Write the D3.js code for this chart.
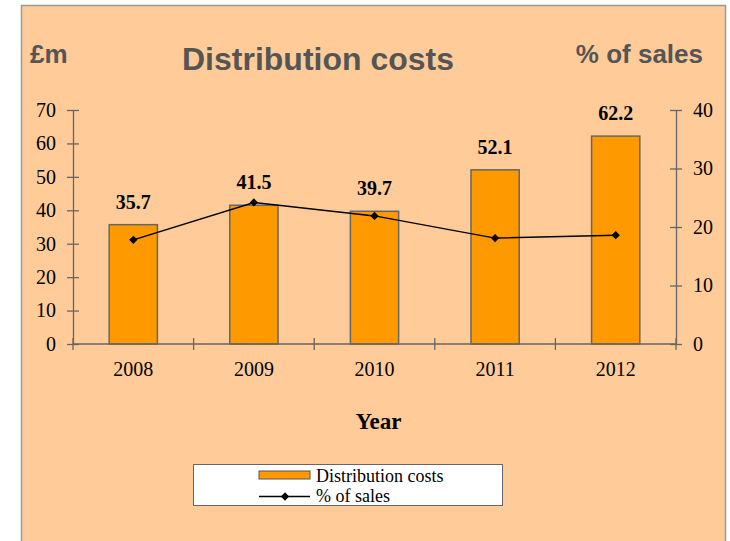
<!DOCTYPE html>
<html>
<head>
<meta charset="utf-8">
<script src="https://cdn.jsdelivr.net/npm/d3@7"></script>
<style>
  body { margin: 0; background: #fff; }
  svg { display: block; }
</style>
</head>
<body>
<div id="chart"></div>
<script>
// chart values
var years = ["2008", "2009", "2010", "2011", "2012"];
var costs = [35.7, 41.5, 39.7, 52.1, 62.2];       // £m
var pctSales = [17.8, 24.2, 21.9, 18.1, 18.6];    // % of sales
var leftTicks = [0, 10, 20, 30, 40, 50, 60, 70];
var rightTicks = [0, 10, 20, 30, 40];

var W = 730, H = 541;
var margin = {top: 110, right: 54, bottom: 197, left: 73},
    width = W - margin.left - margin.right,
    height = H - margin.top - margin.bottom;

var svg = d3.select("#chart").append("svg")
    .attr("width", W)
    .attr("height", H);

// chart frame
svg.append("rect")
    .attr("x", 21.5).attr("y", 5.5)
    .attr("width", 704).attr("height", 560)
    .style("fill", "#ffcc99")
    .style("stroke", "#999")
    .style("stroke-width", 1.5);

var g = svg.append("g").attr("transform", "translate(" + margin.left + "," + margin.top + ")");

var x = d3.scaleBand().domain(years).range([0, width]).paddingInner(0.6).paddingOuter(0.3);
var xPos = d3.scalePoint().domain(years).range([0, width]).padding(0.5);
var yL = d3.scaleLinear().domain([0, 70]).range([height, 0]);
var yR = d3.scaleLinear().domain([0, 40]).range([height, 0]);

// bars
g.selectAll("rect.bar")
    .data(costs)
    .enter()
    .append("rect")
      .attr("class", "bar")
      .attr("x", function(d, i){ return xPos(years[i]) - x.bandwidth() / 2; })
      .attr("y", function(d){ return yL(d); })
      .attr("width", x.bandwidth())
      .attr("height", function(d){ return height - yL(d); })
      .style("fill", "#ff9900")
      .style("stroke", "#666")
      .style("stroke-width", 1.5);

// bar value labels
g.selectAll("text.val")
    .data(costs)
    .enter()
    .append("text")
      .attr("x", function(d, i){ return xPos(years[i]); })
      .attr("y", function(d){ return yL(d) - 16; })
      .attr("text-anchor", "middle")
      .style("font-family", "Liberation Serif")
      .style("font-weight", "bold")
      .style("font-size", "20px")
      .text(function(d){ return d.toFixed(1); });

// axes
function styleAxis(sel) {
    sel.attr("font-family", "Liberation Serif").attr("font-size", 20);
    sel.selectAll("path").style("stroke", "#666").style("stroke-width", 1.3);
    sel.selectAll("line").style("stroke", "#666").style("stroke-width", 1.3);
    sel.selectAll("text")
        .style("font-family", "'Liberation Serif', serif")
        .style("font-size", "20px")
        .style("fill", "#000");
}

var leftAxis = g.append("g")
    .call(d3.axisLeft(yL).tickValues(leftTicks).tickSize(6).tickSizeOuter(0).tickPadding(11))
    .call(styleAxis);
leftAxis.selectAll(".tick line").attr("x2", 6).attr("x1", -6);

var rightAxis = g.append("g")
    .attr("transform", "translate(" + width + ",0)")
    .call(d3.axisRight(yR).tickValues(rightTicks).tickSize(6).tickSizeOuter(0).tickPadding(11))
    .call(styleAxis);
rightAxis.selectAll(".tick line").attr("x1", -6).attr("x2", 6);

// x axis: ticks between categories
var xAxis = g.append("g")
    .attr("transform", "translate(0," + height + ")");
xAxis.append("line")
    .attr("x1", 0).attr("x2", width)
    .style("stroke", "#666").style("stroke-width", 1.3);
var bounds = d3.range(years.length + 1).map(function(i){ return i * width / years.length; });
xAxis.selectAll("line.tk")
    .data(bounds)
    .enter()
    .append("line")
      .attr("class", "tk")
      .attr("x1", function(d){ return d; }).attr("x2", function(d){ return d; })
      .attr("y1", -6).attr("y2", 6)
      .style("stroke", "#666").style("stroke-width", 1.3);
xAxis.selectAll("text")
    .data(years)
    .enter()
    .append("text")
      .attr("x", function(d){ return xPos(d); })
      .attr("y", 32)
      .attr("text-anchor", "middle")
      .style("font-family", "Liberation Serif")
      .style("font-size", "20px")
      .text(function(d){ return d; });

// % of sales line
var line = d3.line()
    .x(function(d, i){ return xPos(years[i]); })
    .y(function(d){ return yR(d); });

g.append("path")
    .datum(pctSales)
    .attr("d", line)
    .style("fill", "none")
    .style("stroke", "#000")
    .style("stroke-width", 1.5);

var diamond = d3.symbol().type(d3.symbolDiamond2).size(44);
g.selectAll("path.pt")
    .data(pctSales)
    .enter()
    .append("path")
      .attr("class", "pt")
      .attr("d", diamond)
      .attr("transform", function(d, i){ return "translate(" + xPos(years[i]) + "," + yR(d) + ")"; })
      .style("fill", "#000");

// titles
svg.append("text")
    .attr("x", 318).attr("y", 69.5)
    .attr("text-anchor", "middle")
    .style("font-family", "Liberation Sans")
    .style("font-weight", "bold")
    .style("font-size", "32px")
    .style("fill", "#555")
    .text("Distribution costs");

svg.append("text")
    .attr("x", 30).attr("y", 62.5)
    .style("font-family", "Liberation Sans")
    .style("font-weight", "bold")
    .style("font-size", "26px")
    .style("fill", "#555")
    .text("£m");

svg.append("text")
    .attr("x", 703).attr("y", 62.5)
    .attr("text-anchor", "end")
    .style("font-family", "Liberation Sans")
    .style("font-weight", "bold")
    .style("font-size", "26px")
    .style("fill", "#555")
    .text("% of sales");

svg.append("text")
    .attr("x", 378.5).attr("y", 428.5)
    .attr("text-anchor", "middle")
    .style("font-family", "Liberation Serif")
    .style("font-weight", "bold")
    .style("font-size", "23px")
    .text("Year");

// legend
var leg = svg.append("g");
leg.append("rect")
    .attr("x", 193.5).attr("y", 464.5)
    .attr("width", 309).attr("height", 41)
    .style("fill", "#fff")
    .style("stroke", "#666");
leg.append("rect")
    .attr("x", 259).attr("y", 471)
    .attr("width", 51).attr("height", 8)
    .style("fill", "#ff9900")
    .style("stroke", "#555");
leg.append("text")
    .attr("x", 316).attr("y", 481.5)
    .style("font-family", "Liberation Serif")
    .style("font-size", "18px")
    .text("Distribution costs");
leg.append("line")
    .attr("x1", 259).attr("x2", 310)
    .attr("y1", 496.5).attr("y2", 496.5)
    .style("stroke", "#000").style("stroke-width", 1.5);
leg.append("path")
    .attr("d", diamond)
    .attr("transform", "translate(285,496.5)");
leg.append("text")
    .attr("x", 316).attr("y", 501.5)
    .style("font-family", "Liberation Serif")
    .style("font-size", "18px")
    .text("% of sales");
</script>
</body>
</html>
